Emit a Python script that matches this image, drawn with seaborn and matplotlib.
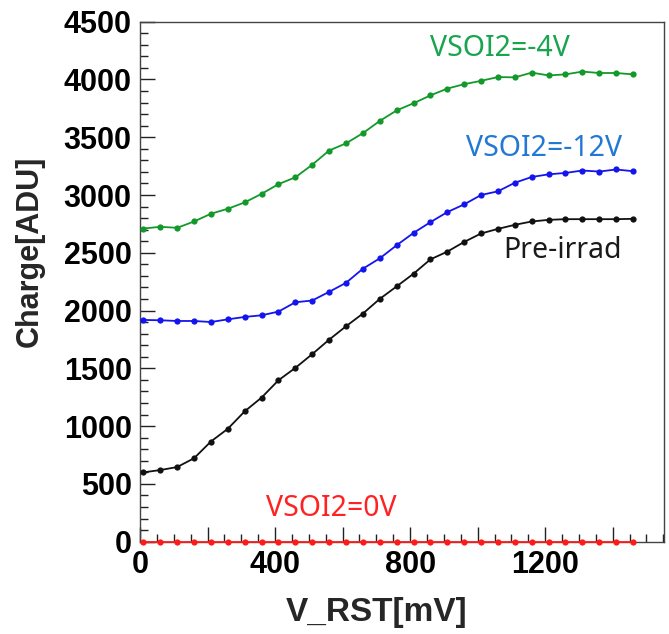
import matplotlib
matplotlib.use("Agg")
import matplotlib.pyplot as plt
from matplotlib.ticker import MultipleLocator, FuncFormatter
import numpy as np
import pandas as pd
import seaborn as sns

# ---- data ----
v_rst = [10, 60, 110, 160, 210, 260, 310, 360, 410, 460,
         510, 560, 610, 660, 710, 760, 810, 860, 910, 960,
         1010, 1060, 1110, 1160, 1210, 1260, 1310, 1360, 1410, 1460]

charge_m4v = [2710, 2725, 2716, 2771, 2838, 2881, 2936, 3010, 3094, 3153,
              3262, 3385, 3447, 3535, 3641, 3732, 3794, 3862, 3921, 3959,
              3988, 4021, 4018, 4059, 4035, 4044, 4068, 4056, 4056, 4044]

charge_m12v = [1919, 1916, 1910, 1910, 1901, 1924, 1945, 1959, 1991, 2072,
               2087, 2162, 2240, 2362, 2452, 2565, 2672, 2765, 2852, 2919,
               3000, 3032, 3106, 3156, 3179, 3191, 3212, 3203, 3221, 3206]

charge_pre = [600, 620, 646, 722, 867, 977, 1128, 1247, 1397, 1504,
              1623, 1748, 1864, 1974, 2101, 2209, 2319, 2443, 2510, 2594,
              2667, 2707, 2742, 2771, 2785, 2791, 2791, 2791, 2791, 2794]

charge_0v = [0] * 30

series_names = ["VSOI2=-4V", "VSOI2=-12V", "Pre-irrad", "VSOI2=0V"]
line_colors = ["#12992a", "#1414ee", "#111111", "#ff1a1a"]
text_colors = ["#18a54e", "#2278d2", "#1a1a1a", "#ff2222"]
# label anchor positions (data units, left / vertical centre)
label_x = [859, 966, 1077, 373]
label_y = [4265, 3400, 2522, 290]

x_tick_labels = ["0", "400", "800", "1200"]
y_tick_labels = ["0", "500", "1000", "1500", "2000", "2500", "3000", "3500", "4000", "4500"]

# ---- plot ----
sns.set_style("white")
plt.rcParams['font.family'] = ['Liberation Sans', 'DejaVu Sans']

fig = plt.figure(figsize=(6.69, 6.34), dpi=100)
ax = fig.add_axes([0.2093, 0.1456, 0.7833, 0.8202])

all_series = [charge_m4v, charge_m12v, charge_pre, charge_0v]
for name, vals, col in zip(series_names, all_series, line_colors):
    df = pd.DataFrame({"V_RST": v_rst, "Charge": vals})
    sns.lineplot(data=df, x="V_RST", y="Charge", ax=ax, color=col,
                 marker="o", markersize=4.5, markeredgewidth=0,
                 linewidth=1.3, legend=False)
    ax.lines[-1].set_clip_on(False)
    ax.lines[-1].set_zorder(3)

for name, tx, ty, tc in zip(series_names, label_x, label_y, text_colors):
    ax.text(tx, ty, name, color=tc, fontsize=20.5, family=['Noto Sans', 'DejaVu Sans'],
            ha="left", va="center")

ax.set_xlim(0, 1552)
ax.set_ylim(0, 4500)

ax.xaxis.set_major_locator(MultipleLocator(200))
ax.xaxis.set_minor_locator(MultipleLocator(50))
ax.yaxis.set_major_locator(MultipleLocator(500))
ax.yaxis.set_minor_locator(MultipleLocator(100))

xl = {int(s): s for s in x_tick_labels}
ax.xaxis.set_major_formatter(FuncFormatter(lambda v, p: xl.get(int(round(v)), "")))
yl = {int(s): s for s in y_tick_labels}
ax.yaxis.set_major_formatter(FuncFormatter(lambda v, p: yl.get(int(round(v)), "")))

ax.tick_params(axis="both", which="both", direction="in", left=True, bottom=True,
               top=False, right=False, colors="#222222", labelcolor="black")
ax.tick_params(axis="both", which="major", length=10.5, width=1.0)
ax.tick_params(axis="both", which="minor", length=5.5, width=1.0)
ax.tick_params(axis="y", which="major", labelsize=22, pad=6)
ax.tick_params(axis="x", which="major", labelsize=22, pad=6)
for lab in ax.get_xticklabels() + ax.get_yticklabels():
    lab.set_fontweight("bold")

for sp in ax.spines.values():
    sp.set_color("#444444")
    sp.set_linewidth(1.0)

ax.set_xlabel("V_RST[mV]", fontsize=24, fontweight="bold")
ax.xaxis.set_label_coords(0.451, -0.137)
ax.xaxis.label.set_va("center")
ax.set_ylabel("Charge[ADU]", fontsize=22, fontweight="bold")
ax.yaxis.set_label_coords(-0.21, 0.558)
ax.yaxis.label.set_va("center")

fig.savefig("out.png", dpi=100, facecolor="white")
